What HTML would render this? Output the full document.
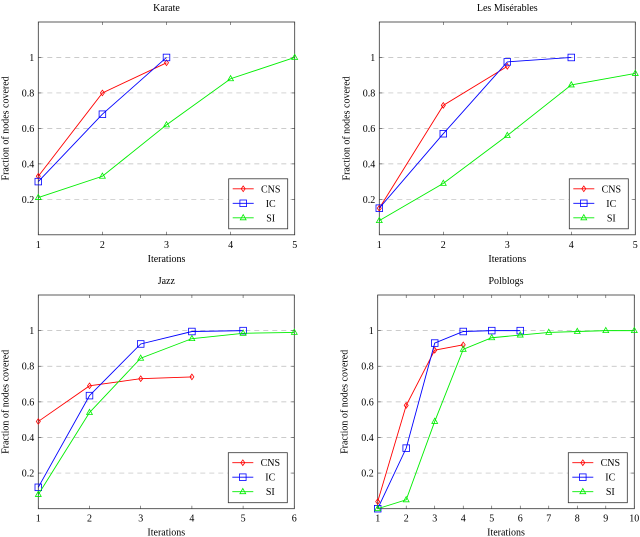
<!DOCTYPE html>
<html><head><meta charset="utf-8"><style>
body{margin:0;background:#fff;}
svg{display:block;font-family:"Liberation Serif",serif;}
</style></head><body>
<svg id="c" width="640" height="537"></svg>
<script>
const karateCNS=[0.33,0.80,0.97];
const karateIC=[0.30,0.68,1.0];
const karateSI=[0.21,0.33,0.62,0.88,1.0];
const lesmisCNS=[0.15,0.73,0.95];
const lesmisIC=[0.15,0.57,0.975,1.0];
const lesmisSI=[0.08,0.29,0.56,0.845,0.91];
const jazzCNS=[0.49,0.69,0.73,0.74];
const jazzIC=[0.12,0.635,0.925,0.995,1.0];
const jazzSI=[0.08,0.54,0.845,0.955,0.985,0.99];
const polCNS=[0.04,0.58,0.89,0.92];
const polIC=[0.0,0.34,0.93,0.995,1.0,1.0];
const polSI=[0.0,0.05,0.49,0.895,0.96,0.975,0.99,0.995,1.0,1.0];
const yTicks=[0.2,0.4,0.6,0.8,1];
const yTickLabels=["0.2","0.4","0.6","0.8","1"];
const titles=["Karate","Les Misérables","Jazz","Polblogs"];
const xMaxes=[5,5,6,10];
const seriesNames=["CNS","IC","SI"];

const NS="http://www.w3.org/2000/svg";
const svg=document.getElementById('c');
function el(tag,attrs,parent){const e=document.createElementNS(NS,tag);for(const k in attrs)e.setAttribute(k,attrs[k]);(parent||svg).appendChild(e);return e;}
const colors=["#ff0000","#0000ff","#00ee00"];
function marker(g,type,x,y,c){
  let m;
  if(type===0){m=el('path',{d:`M${x} ${y-2.8}L${x+2} ${y}L${x} ${y+2.8}L${x-2} ${y}Z`,fill:'none',stroke:c,'stroke-width':0.8},g);}
  else if(type===1){m=el('rect',{x:x-3.3,y:y-3.3,width:6.6,height:6.6,fill:'none',stroke:c,'stroke-width':0.8},g);}
  else {m=el('path',{d:`M${x} ${y-3.2}L${x+2.9} ${y+2}L${x-2.9} ${y+2}Z`,fill:'none',stroke:c,'stroke-width':0.8},g);}
  return m;
}
function panel(i,L,T,R,B,xMax,series){
  const g=el('g',{});
  
  
  const sx=v=>L+(v-1)/(xMax-1)*(R-L);
  const sy=v=>B-v/1.2*(B-T);
  yTicks.forEach((t,k)=>{
    const gl=el('line',{x1:L,x2:R,y1:sy(t),y2:sy(t),stroke:'#bbb','stroke-width':0.7,'stroke-dasharray':'5,4'},g);
    
    
    el('line',{x1:L,x2:L+3,y1:sy(t),y2:sy(t),stroke:'#444','stroke-width':0.6},g);
    el('line',{x1:R,x2:R-3,y1:sy(t),y2:sy(t),stroke:'#444','stroke-width':0.6},g);
    const tl=el('text',{x:L-4,y:sy(t)+3.5,'text-anchor':'end','font-size':10},g);
    tl.textContent=yTickLabels[k];
    
    
  });
  for(let x=1;x<=xMax;x++){
    el('line',{x1:sx(x),x2:sx(x),y1:B,y2:B-3,stroke:'#444','stroke-width':0.6},g);
    el('line',{x1:sx(x),x2:sx(x),y1:T,y2:T+3,stroke:'#444','stroke-width':0.6},g);
    const tl=el('text',{x:sx(x),y:B+13,'text-anchor':'middle','font-size':10},g);
    tl.textContent=String(x);
    
    
  }
  const fr=el('rect',{x:L,y:T,width:R-L,height:B-T,fill:'none',stroke:'#333','stroke-width':0.8},g);
  
  
  series.forEach((s,si)=>{
    const pts=s.map((v,k)=>[sx(k+1),sy(v)]);
    const pl=el('polyline',{points:pts.map(p=>p.join(',')).join(' '),fill:'none',stroke:colors[si],'stroke-width':0.9},g);
    
    
    pts.forEach(p=>{const m=marker(g,si,p[0],p[1],colors[si]);
      
      });
  });
  const tt=el('text',{x:(L+R)/2,y:T-11,'text-anchor':'middle','font-size':10},g);
  tt.textContent=titles[i];
  
  
  const xl=el('text',{x:(L+R)/2,y:B+27,'text-anchor':'middle','font-size':10},g);
  xl.textContent='Iterations';
  
  
  const yx=L-30,yy=(T+B)/2;
  const yl=el('text',{x:yx,y:yy,'text-anchor':'middle','font-size':10,transform:`rotate(-90 ${yx} ${yy})`},g);
  yl.textContent='Fraction of nodes covered';
  
  
  const lg=el('g',{},g);
  
  
  const lx=R-66,ly=B-56;
  el('rect',{x:lx,y:ly,width:59,height:50,fill:'#fff',stroke:'#333','stroke-width':0.8},lg);
  seriesNames.forEach((n,si)=>{
    const yy2=ly+10+si*14.5;
    el('line',{x1:lx+4,x2:lx+25,y1:yy2,y2:yy2,stroke:colors[si],'stroke-width':0.9},lg);
    marker(lg,si,lx+14.5,yy2,colors[si]);
    const t=el('text',{x:lx+42,y:yy2+3.5,'text-anchor':'middle','font-size':10},lg);
    t.textContent=n;
    
    
  });
}
panel(0,38.3,22,294.7,234.8,xMaxes[0],[karateCNS,karateIC,karateSI]);
panel(1,379.3,22,635.3,234.8,xMaxes[1],[lesmisCNS,lesmisIC,lesmisSI]);
panel(2,38.3,295,294.3,508.7,xMaxes[2],[jazzCNS,jazzIC,jazzSI]);
panel(3,377.7,295,634.3,508.7,xMaxes[3],[polCNS,polIC,polSI]);
</script>
</body></html>
